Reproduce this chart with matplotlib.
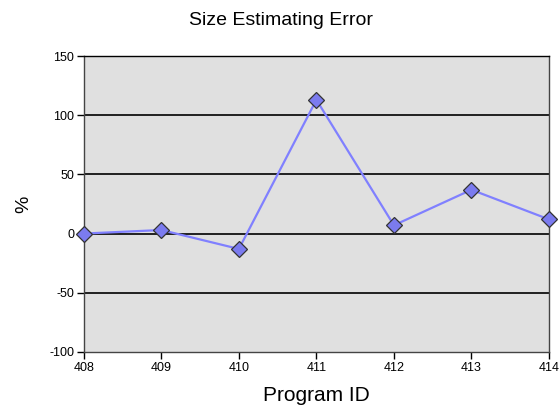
import matplotlib
matplotlib.use('Agg')
import matplotlib.pyplot as plt

plt.rcParams['font.family'] = ['Liberation Sans', 'DejaVu Sans']
plt.rcParams['axes.unicode_minus'] = False

program_ids = [408, 409, 410, 411, 412, 413, 414]
errors = [0, 3, -13, 113, 7, 37, 12]

fig = plt.figure(figsize=(5.59, 4.15), dpi=100)
ax = fig.add_axes([0.150, 0.152, 0.832, 0.713])
ax.set_facecolor('#e0e0e0')

for y in [-50, 0, 50, 100]:
    ax.axhline(y, color='black', lw=1.2, zorder=1)

ax.plot(program_ids, errors, color='#8080ff', lw=1.6, marker='D', ms=8,
        markerfacecolor='#7b7bef', markeredgecolor='#333333', markeredgewidth=0.9,
        zorder=3, clip_on=False)

ax.set_xlim(408, 414)
ax.set_ylim(-100, 150)
ax.set_xticks(program_ids)
ax.set_yticks([-100, -50, 0, 50, 100, 150])
ax.tick_params(direction='out', length=5, width=1, labelsize=9, pad=2)
for s in ax.spines.values():
    s.set_color('#444444')
    s.set_linewidth(1)
ax.spines['top'].set_color('black')

fig.suptitle('Size Estimating Error', fontsize=14, x=0.503, y=0.972)
ax.set_xlabel('Program ID', fontsize=15, labelpad=9)
ax.set_ylabel('%', fontsize=14, labelpad=12)

fig.savefig('out.png', dpi=100)
